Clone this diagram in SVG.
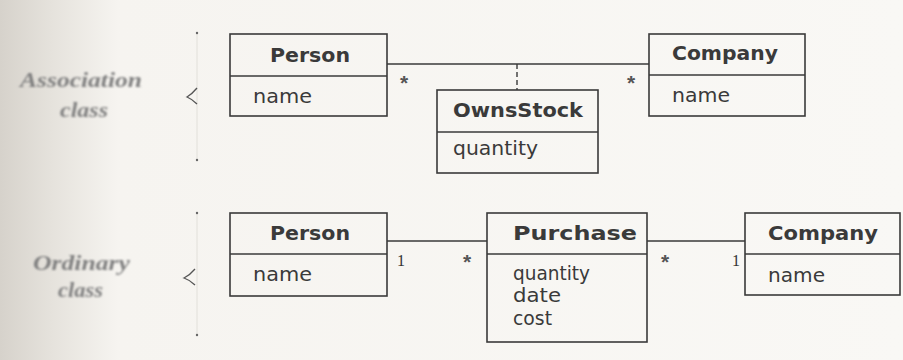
<svg xmlns="http://www.w3.org/2000/svg" width="903" height="360" viewBox="0 0 903 360">
  <defs>
    <linearGradient id="gutter" x1="0" y1="0" x2="1" y2="0">
      <stop offset="0" stop-color="#d6d2cb"/>
      <stop offset="0.06" stop-color="#e6e3dd"/>
      <stop offset="0.13" stop-color="#f6f4f0"/>
      <stop offset="1" stop-color="#f9f8f5"/>
    </linearGradient>
    <filter id="soft" x="-10%" y="-30%" width="120%" height="160%">
      <feGaussianBlur stdDeviation="1.1"/>
    </filter>
    <style>
      .box { fill: none; stroke: #3a3a3a; stroke-width: 1.6; }
      .div { stroke: #3a3a3a; stroke-width: 1.4; }
      .title { font-family: "DejaVu Sans", "Liberation Sans", sans-serif; font-weight: bold; font-size: 20px; fill: #3a3a3a; }
      .attr { font-family: "DejaVu Sans", "Liberation Sans", sans-serif; font-size: 20px; fill: #3a3a3a; }
      .conn { stroke: #3a3a3a; stroke-width: 1.5; fill: none; }
      .dash { stroke: #3a3a3a; stroke-width: 1.4; stroke-dasharray: 5 3; fill: none; }
      .mult { font-family: "Liberation Sans", Arial, sans-serif; font-weight: bold; font-size: 21px; fill: #555; text-anchor: middle; }
      .one { font-family: "Liberation Serif", "Times New Roman", serif; font-size: 16px; fill: #333; text-anchor: middle; }
      .side { font-family: "Liberation Serif", "Times New Roman", serif; font-style: italic; font-weight: bold; font-size: 22px; fill: #808080; filter: url(#soft); }
      .brace { stroke: #555; stroke-width: 1.3; fill: none; }
      .faint { stroke: #e2e0da; stroke-width: 1; fill: none; }
    </style>
  </defs>

  <rect x="0" y="0" width="903" height="360" fill="url(#gutter)"/>

  <g id="side-labels">
    <text class="side" x="20" y="87" textLength="122" lengthAdjust="spacingAndGlyphs">Association</text>
    <text class="side" x="60" y="117" textLength="48" lengthAdjust="spacingAndGlyphs">class</text>
    <text class="side" x="33" y="270" textLength="97" lengthAdjust="spacingAndGlyphs">Ordinary</text>
    <text class="side" x="58" y="297" textLength="45" lengthAdjust="spacingAndGlyphs">class</text>
  </g>

  <g id="braces">
    <line class="faint" x1="197" y1="33" x2="197" y2="160"/>
    <line class="faint" x1="197" y1="213" x2="197" y2="335"/>
    <circle cx="197" cy="33" r="1.2" fill="#666"/>
    <circle cx="197" cy="160" r="1.2" fill="#666"/>
    <path class="brace" d="M197,88 Q192,94 187,97 Q192,99 197,104"/>
    <circle cx="197" cy="213" r="1.2" fill="#666"/>
    <circle cx="197" cy="335" r="1.2" fill="#666"/>
    <path class="brace" d="M195,269 Q190,275 184,278 Q190,280 195,285"/>
  </g>

  <g id="connectors">
    <line class="conn" x1="387" y1="64" x2="649" y2="64"/>
    <line class="dash" x1="517" y1="64" x2="517" y2="90"/>
    <line class="conn" x1="387" y1="241" x2="487" y2="241"/>
    <line class="conn" x1="647" y1="241" x2="745" y2="241"/>
    <text class="mult" x="404" y="90">*</text>
    <text class="mult" x="631" y="90">*</text>
    <text class="one" x="401" y="266">1</text>
    <text class="mult" x="467" y="269">*</text>
    <text class="mult" x="665" y="269">*</text>
    <text class="one" x="736" y="266">1</text>
  </g>

  <g id="person-assoc">
    <rect class="box" x="230" y="34" width="157" height="82"/>
    <line class="div" x1="230" y1="76" x2="387" y2="76"/>
    <text class="title" x="270" y="62" textLength="80" lengthAdjust="spacingAndGlyphs">Person</text>
    <text class="attr" x="253" y="103" textLength="59" lengthAdjust="spacingAndGlyphs">name</text>
  </g>

  <g id="company-assoc">
    <rect class="box" x="649" y="34" width="156" height="82"/>
    <line class="div" x1="649" y1="75" x2="805" y2="75"/>
    <text class="title" x="672" y="60" textLength="106" lengthAdjust="spacingAndGlyphs">Company</text>
    <text class="attr" x="672" y="102" textLength="58" lengthAdjust="spacingAndGlyphs">name</text>
  </g>

  <g id="ownsstock">
    <rect class="box" x="437" y="90" width="161" height="83"/>
    <line class="div" x1="437" y1="132" x2="598" y2="132"/>
    <text class="title" x="453" y="117" textLength="130" lengthAdjust="spacingAndGlyphs">OwnsStock</text>
    <text class="attr" x="453" y="155" textLength="85" lengthAdjust="spacingAndGlyphs">quantity</text>
  </g>

  <g id="person-ordinary">
    <rect class="box" x="230" y="213" width="157" height="83"/>
    <line class="div" x1="230" y1="254" x2="387" y2="254"/>
    <text class="title" x="270" y="240" textLength="80" lengthAdjust="spacingAndGlyphs">Person</text>
    <text class="attr" x="253" y="281" textLength="59" lengthAdjust="spacingAndGlyphs">name</text>
  </g>

  <g id="purchase">
    <rect class="box" x="487" y="213" width="160" height="129"/>
    <line class="div" x1="487" y1="254" x2="647" y2="254"/>
    <text class="title" x="513" y="240" textLength="124" lengthAdjust="spacingAndGlyphs">Purchase</text>
    <text class="attr" x="513" y="280" textLength="77" lengthAdjust="spacingAndGlyphs">quantity</text>
    <text class="attr" x="513" y="302" textLength="48" lengthAdjust="spacingAndGlyphs">date</text>
    <text class="attr" x="513" y="325" textLength="39" lengthAdjust="spacingAndGlyphs">cost</text>
  </g>

  <g id="company-ordinary">
    <rect class="box" x="745" y="213" width="155" height="82"/>
    <line class="div" x1="745" y1="254" x2="900" y2="254"/>
    <text class="title" x="768" y="240" textLength="110" lengthAdjust="spacingAndGlyphs">Company</text>
    <text class="attr" x="768" y="282" textLength="57" lengthAdjust="spacingAndGlyphs">name</text>
  </g>
</svg>
